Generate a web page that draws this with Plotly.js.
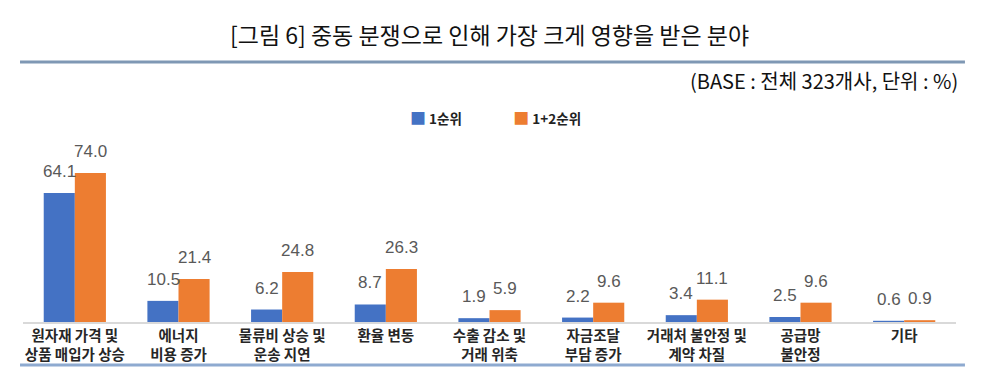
<!DOCTYPE html>
<html>
<head>
<meta charset="utf-8">
<script src="https://cdn.plot.ly/plotly-3.0.1.min.js"></script>
<style>
  html, body { margin: 0; padding: 0; background: #ffffff; }
  #chart { width: 985px; height: 375px; }
</style>
</head>
<body>
<div id="chart"></div>
<script>
// Sectors most affected by the Middle East conflict (share of firms, %)
const categories = [
  '원자재 가격 및<br>상품 매입가 상승',
  '에너지<br>비용 증가',
  '물류비 상승 및<br>운송 지연',
  '환율 변동',
  '수출 감소 및<br>거래 위축',
  '자금조달<br>부담 증가',
  '거래처 불안정 및<br>계약 차질',
  '공급망<br>불안정',
  '기타'
];
const firstRank = [64.1, 10.5, 6.2, 8.7, 1.9, 2.2, 3.4, 2.5, 0.6];
const firstSecondRank = [74.0, 21.4, 24.8, 26.3, 5.9, 9.6, 11.1, 9.6, 0.9];
const seriesNames = ['1순위', '1+2순위'];
const seriesColors = ['#4472C4', '#ED7D31'];

const KR = '"Noto Sans CJK KR", "Noto Sans", sans-serif';
const NUM = '"Liberation Sans", Arial, sans-serif';

const traces = [firstRank, firstSecondRank].map((vals, k) => ({
  type: 'bar',
  name: seriesNames[k],
  x: categories,
  y: vals,
  marker: { color: seriesColors[k], line: { width: 0 } },
  hoverinfo: 'x+y'
}));

// value labels above each bar
const barHalf = 15.5;
const valueLabels = [];
[firstRank, firstSecondRank].forEach((vals, k) => {
  vals.forEach((v, i) => {
    valueLabels.push({
      x: categories[i], y: v, xref: 'x', yref: 'y',
      text: v.toFixed(1),
      showarrow: false,
      xanchor: 'center', yanchor: 'bottom',
      xshift: k === 0 ? -barHalf : barHalf,
      yshift: 10,
      font: { family: NUM, size: 17, color: '#595959' }
    });
  });
});

// compact legend: coloured square followed by the series name
const legendText = seriesNames.map((name, k) =>
  '<span style="color:' + seriesColors[k] + ';font-size:16px">■</span>&nbsp;<b>' + name + '</b>'
).join('&nbsp;'.repeat(17));

const layout = {
  width: 985,
  height: 375,
  margin: { l: 23, r: 29, t: 161, b: 53 },
  paper_bgcolor: '#ffffff',
  plot_bgcolor: '#ffffff',
  barmode: 'group',
  bargap: 0.4,
  bargroupgap: 0,
  showlegend: false,
  title: {
    text: '[그림 6] 중동 분쟁으로 인해 가장 크게 영향을 받은 분야',
    font: { family: KR, size: 23, color: '#111111' },
    x: 0.497, xanchor: 'center',
    y: 0.905, yref: 'container', yanchor: 'middle'
  },
  xaxis: {
    type: 'category',
    showline: true,
    linecolor: '#d9d9d9',
    linewidth: 1.5,
    ticks: '',
    showgrid: false,
    zeroline: false,
    tickfont: { family: KR, size: 14.5, color: '#262626', weight: 'bold' },
    fixedrange: true
  },
  yaxis: {
    range: [0, 80],
    visible: false,
    showgrid: false,
    zeroline: false,
    fixedrange: true
  },
  shapes: [
    { type: 'line', xref: 'paper', yref: 'paper', x0: -0.0032, x1: 1.0096, y0: 1.615, y1: 1.615,
      line: { color: '#7f98b4', width: 3 } },
    { type: 'line', xref: 'paper', yref: 'paper', x0: -0.0032, x1: 1.0096, y0: -0.267, y1: -0.267,
      line: { color: '#8eaad0', width: 3 } }
  ],
  annotations: valueLabels.concat([
    {
      xref: 'paper', yref: 'paper', x: 1.0043, y: 1.503,
      xanchor: 'right', yanchor: 'middle', showarrow: false,
      text: '(BASE : 전체 323개사, 단위 : %)',
      font: { family: KR, size: 20, color: '#111111' }
    },
    {
      xref: 'paper', yref: 'paper', x: 0.506, y: 1.273,
      xanchor: 'center', yanchor: 'middle', showarrow: false,
      text: legendText,
      font: { family: KR, size: 13.5, color: '#222222' }
    }
  ])
};

Plotly.newPlot('chart', traces, layout, { displayModeBar: false, staticPlot: true });
</script>
</body>
</html>
